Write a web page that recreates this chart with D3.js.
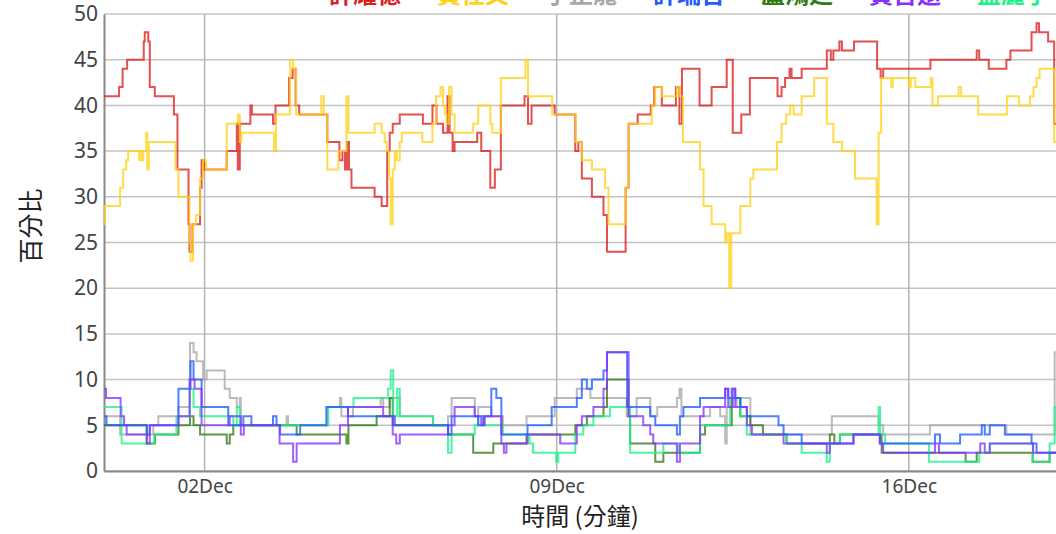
<!DOCTYPE html>
<html><head><meta charset="utf-8">
<script src="https://cdn.jsdelivr.net/npm/d3@7"></script>
<style>body{margin:0;background:#fff;overflow:hidden} svg{display:block}</style>
</head><body><svg id="c" width="1056" height="534"></svg>
<script>
// ---- data ----
const seriesNames = ["許耀德", "黃仕文", "于正龍", "許瑞台", "盧鴻廷", "黃吉遠", "孟麗宇"];
const seriesColors = ["#dc1f1f", "#ffd21a", "#a8a8a8", "#1f5bff", "#2f7a12", "#8333ff", "#1ef08a"];
const startDay = "2023-11-30";
const xTickDays = ["2023-12-02", "2023-12-09", "2023-12-16"];
const yTicks = [0, 5, 10, 15, 20, 25, 30, 35, 40, 45, 50];
// [days since start, percent]
const red = [[0,41],[0.30,42],[0.37,44],[0.46,45],[0.79,47],[0.81,48],[0.88,47],[0.91,42],[1.01,41],[1.39,39],[1.46,33],[1.68,27],[1.70,24],[1.76,27],[1.91,31],[1.94,34],[1.99,33],[2.44,35],[2.64,38],[2.66,33],[2.70,38],[2.91,40],[2.94,39],[3.36,38],[3.41,40],[3.68,43],[3.75,44],[3.81,40],[3.88,39],[4.44,36],[4.68,34],[4.74,35],[4.79,33],[4.83,36],[4.87,33],[4.92,31],[5.38,30],[5.52,29],[5.63,35],[5.68,37],[5.74,38],[5.88,39],[6.34,38],[6.53,40],[6.61,38],[6.74,37],[6.83,41],[6.87,37],[6.93,35],[6.97,36],[7.42,37],[7.50,35],[7.68,31],[7.77,33],[7.89,40],[8.36,41],[8.43,38],[8.50,40],[8.96,39],[9.37,35],[9.43,36],[9.50,32],[9.70,30],[9.93,28],[10.0,24],[10.37,31],[10.43,38],[10.61,39],[10.87,40],[10.94,42],[11.09,40],[11.37,42],[11.44,38],[11.49,44],[11.84,40],[12.08,42],[12.38,45],[12.50,37],[12.67,39],[12.84,43],[13.39,41],[13.47,42],[13.54,43],[13.63,44],[13.67,43],[13.87,44],[14.37,46],[14.45,45],[14.50,46],[14.62,47],[14.67,46],[14.91,47],[15.37,44],[15.44,43],[15.49,44],[16.43,45],[17.35,46],[17.40,45],[17.59,44],[17.94,45],[18.02,46],[18.44,48],[18.54,49],[18.59,48],[18.77,47],[18.89,38],[19.1,38]];
const yellow = [[0,27],[0.02,29],[0.32,31],[0.38,33],[0.44,34],[0.48,35],[0.70,34],[0.73,35],[0.76,34],[0.78,35],[0.84,37],[0.86,33],[0.89,36],[1.42,33],[1.48,30],[1.70,25],[1.72,23],[1.77,27],[1.83,28],[1.91,32],[1.97,34],[2.03,33],[2.44,38],[2.66,39],[2.70,36],[2.73,37],[3.38,35],[3.42,39],[3.70,45],[3.76,44],[3.82,39],[4.32,41],[4.37,39],[4.44,33],[4.66,35],[4.82,41],[4.86,37],[5.38,38],[5.52,37],[5.58,36],[5.62,35],[5.67,32],[5.70,27],[5.74,33],[5.78,35],[5.82,34],[5.88,36],[5.92,37],[6.33,36],[6.53,38],[6.60,41],[6.69,42],[6.74,40],[6.78,39],[6.81,38],[6.86,42],[6.91,39],[6.97,37],[7.34,38],[7.44,40],[7.68,38],[7.72,37],[7.89,43],[8.38,45],[8.43,41],[8.91,39],[9.38,36],[9.50,34],[9.70,33],[9.96,31],[10.03,27],[10.37,31],[10.43,38],[10.89,40],[10.96,42],[11.09,41],[11.39,42],[11.45,41],[11.51,36],[11.85,33],[11.92,29],[12.08,27],[12.35,25],[12.38,26],[12.43,20],[12.47,26],[12.65,29],[12.85,32],[12.91,33],[13.38,36],[13.47,38],[13.56,39],[13.64,40],[13.71,39],[13.87,41],[14.12,43],[14.37,38],[14.50,36],[14.67,35],[14.93,32],[15.36,27],[15.40,37],[15.45,43],[15.65,42],[15.68,43],[16.0,42],[16.04,43],[16.13,42],[16.44,43],[16.47,40],[16.58,41],[16.99,42],[17.04,41],[17.38,39],[17.95,41],[18.19,40],[18.41,41],[18.48,42],[18.54,43],[18.60,44],[18.89,36],[19.1,36]];
const gray = [[0,6],[0.32,4],[0.98,5],[1.08,6],[1.48,7],[1.71,14],[1.78,13],[1.84,12],[1.97,10],[2.04,11],[2.40,9],[2.50,8],[2.64,7],[2.70,8],[2.72,5],[3.63,6],[3.66,5],[4.44,7],[4.69,8],[4.72,6],[4.95,7],[5.50,8],[5.55,7],[5.68,8],[5.88,6],[6.54,5],[6.84,6],[6.91,8],[7.37,6],[7.44,7],[7.70,6],[7.93,5],[8.40,6],[8.96,8],[9.40,9],[9.67,8],[10.39,6],[10.59,8],[10.86,6],[11.0,7],[11.39,8],[11.44,9],[11.48,6],[12.05,7],[12.25,6],[12.35,3],[12.38,7],[12.58,8],[12.85,4],[14.47,6],[15.40,5],[15.49,4],[16.42,5],[17.94,4],[18.90,13],[19.1,13]];
const blue = [[0,6],[0.05,5],[0.85,4],[0.91,5],[1.48,9],[1.72,12],[1.78,10],[1.94,7],[2.47,5],[2.77,6],[2.93,5],[3.36,6],[3.43,5],[3.50,4],[3.90,5],[4.42,7],[4.85,6],[5.78,5],[6.84,4],[6.91,6],[7.44,5],[7.54,6],[7.70,9],[7.80,8],[7.90,4],[8.42,5],[8.90,7],[9.40,8],[9.50,10],[9.60,9],[9.70,10],[9.93,11],[10.0,13],[10.40,7],[10.86,6],[10.96,5],[11.39,4],[11.45,6],[11.52,7],[11.85,8],[12.35,9],[12.41,8],[12.48,9],[12.55,8],[12.65,7],[12.78,6],[13.41,5],[13.51,4],[13.87,3],[14.90,4],[15.43,3],[16.52,4],[16.62,3],[17.02,4],[17.45,5],[17.51,4],[17.61,5],[17.91,4],[18.44,3],[18.54,2],[19.1,2]];
const green = [[0,5],[0.85,3],[1.01,4],[1.48,5],[1.71,6],[1.78,5],[1.91,4],[2.44,3],[2.50,4],[2.57,5],[3.83,4],[4.82,3],[4.86,5],[5.42,6],[5.68,8],[5.74,5],[6.84,4],[7.34,2],[7.74,3],[8.40,4],[9.37,5],[9.60,6],[9.93,7],[10.0,10],[10.43,6],[10.46,3],[10.96,1],[11.12,2],[11.85,4],[11.95,5],[12.48,8],[12.65,6],[12.85,5],[13.10,4],[13.57,3],[14.43,4],[14.52,3],[14.63,4],[15.46,2],[17.13,1],[17.35,2],[18.46,1],[18.80,2],[19.1,2]];
const purple = [[0,9],[0.04,8],[0.33,6],[0.40,5],[0.45,4],[0.85,3],[0.91,5],[1.48,6],[1.70,10],[1.80,9],[1.94,5],[2.50,6],[2.72,4],[2.78,5],[3.49,3],[3.76,1],[3.83,3],[4.69,5],[4.85,7],[5.55,6],[5.74,4],[5.81,3],[5.88,4],[6.84,5],[6.97,7],[7.37,6],[7.50,5],[7.57,6],[7.90,3],[7.95,2],[8.0,3],[8.42,4],[9.07,3],[9.40,5],[9.50,6],[9.73,7],[9.93,9],[10.0,13],[10.43,6],[10.72,5],[10.86,4],[10.92,3],[11.39,1],[11.45,3],[11.85,6],[11.92,7],[12.35,9],[12.41,7],[12.50,9],[12.55,7],[12.78,5],[12.88,4],[13.51,3],[14.37,2],[14.43,3],[14.90,4],[15.42,3],[15.49,2],[16.52,3],[16.60,2],[17.42,3],[17.51,2],[17.61,3],[18.47,2],[19.1,2]];
const cyan = [[0,7],[0.35,3],[1.0,4],[1.44,6],[1.71,9],[1.78,7],[1.91,6],[2.57,5],[2.64,7],[2.70,5],[4.46,7],[4.96,8],[5.65,9],[5.70,11],[5.75,6],[5.83,9],[5.88,6],[6.54,5],[6.84,2],[6.91,4],[7.37,5],[7.44,6],[7.55,5],[7.93,4],[8.46,3],[8.53,2],[8.99,1],[9.03,2],[9.37,4],[9.53,5],[9.73,6],[10.06,7],[10.46,2],[11.12,3],[11.42,2],[11.85,5],[12.45,8],[12.65,6],[12.78,4],[13.57,3],[13.87,2],[14.37,1],[14.43,3],[14.63,4],[15.40,7],[15.43,4],[15.53,3],[16.40,1],[17.40,2],[17.61,3],[18.47,1],[18.80,3],[18.90,7],[19.1,7]];
const seriesData = [red, yellow, gray, blue, green, purple, cyan];

// ---- layout ----
const W = 1056, H = 534;
const L = 104, T = 14, B = 471;
const pxPerDay = 50.3;
const DAY = 864e5;
const t0 = new Date(startDay + "T00:00:00");
const svg = d3.select("#c");
const x = d3.scaleTime().domain([t0, new Date(+t0 + 19 * DAY)]).range([L, L + 19 * pxPerDay]);
const y = d3.scaleLinear().domain([0, 50]).range([B, T]);
const font = "'Noto Sans', 'Noto Sans CJK TC', sans-serif";
const cjk = "'Noto Sans CJK TC', 'Noto Sans', sans-serif";

// gridlines
svg.append("g").selectAll("line").data(yTicks).join("line")
  .attr("x1", L).attr("x2", W).attr("y1", d => y(d)).attr("y2", d => y(d))
  .attr("stroke", "#c4c4c4").attr("stroke-width", 1.5);
const xt = xTickDays.map(s => new Date(s + "T00:00:00"));
svg.append("g").selectAll("line").data(xt).join("line")
  .attr("x1", d => x(d)).attr("x2", d => x(d)).attr("y1", T).attr("y2", B)
  .attr("stroke", "#b4b4b4").attr("stroke-width", 1.5);

// axes
const yAxis = svg.append("g").attr("transform", `translate(${L},0)`)
  .call(d3.axisLeft(y).tickValues(yTicks).tickSize(0).tickPadding(6));
yAxis.select(".domain").attr("stroke", "#888").attr("stroke-width", 2);
yAxis.selectAll("text").attr("font-family", font).attr("font-size", 21).attr("fill", "#444");
const xAxis = svg.append("g").attr("transform", `translate(0,${B})`)
  .call(d3.axisBottom(x).tickValues(xt).tickFormat(d3.timeFormat("%d%b")).tickSize(0).tickPadding(9));
xAxis.select(".domain").attr("stroke", "#888").attr("stroke-width", 2);
xAxis.selectAll("text").attr("font-family", font).attr("font-size", 19).attr("fill", "#444");

// lines
svg.append("clipPath").attr("id", "clip").append("rect")
  .attr("x", L).attr("y", 0).attr("width", W - L).attr("height", B);
const line = d3.line()
  .x(d => x(new Date(+t0 + d[0] * DAY)))
  .y(d => y(d[1]))
  .curve(d3.curveStepAfter);
const order = [0, 1, 2, 4, 6, 3, 5];
svg.append("g").attr("clip-path", "url(#clip)").selectAll("path")
  .data(order).join("path")
  .attr("d", i => line(seriesData[i]))
  .attr("fill", "none")
  .attr("stroke", i => seriesColors[i])
  .attr("stroke-width", 2)
  .attr("stroke-opacity", 0.78);

// legend (clipped at the top edge, as in the reference)
svg.append("g").selectAll("text").data(seriesNames).join("text")
  .attr("x", (d, i) => 365 + i * 108)
  .attr("y", 2.5)
  .attr("text-anchor", "middle")
  .attr("font-family", cjk).attr("font-size", 24).attr("font-weight", 700)
  .attr("fill", (d, i) => seriesColors[i])
  .text(d => d);

// titles
svg.append("text").attr("transform", "translate(40,226) rotate(-90)")
  .attr("text-anchor", "middle").attr("font-family", cjk).attr("font-size", 25).attr("fill", "#222")
  .text("百分比");
svg.append("text").attr("x", 580).attr("y", 525)
  .attr("text-anchor", "middle").attr("font-family", cjk).attr("font-size", 24).attr("fill", "#222")
  .text("時間 (分鐘)");
</script></body></html>
